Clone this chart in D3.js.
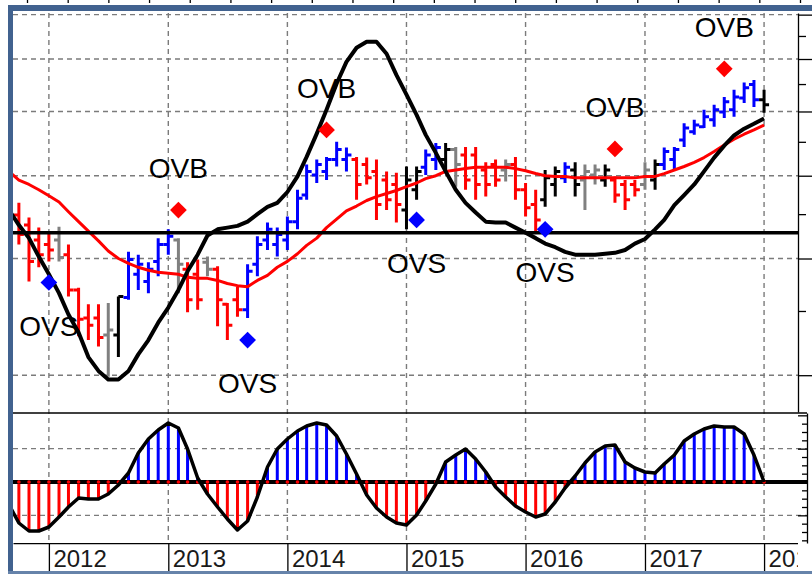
<!DOCTYPE html>
<html>
<head>
<meta charset="utf-8">
<script src="https://cdnjs.cloudflare.com/ajax/libs/d3/7.8.5/d3.min.js"></script>
<style>
    body { margin: 0; background: #ffffff; }
    svg { display: block; font-family: "Liberation Sans", Arial, sans-serif; }
</style>
</head>
<body>
<script>
//monthly periods, Sep 2011 .. Jan 2018 (first month only feeds the lines)
var months = d3.timeMonth.range(new Date(2011, 8, 1), new Date(2018, 1, 1));

//monthly price bars
var barOpen = [null, 34.9, 33.7, 32.0, 31.5, 32.0, 30.4, 26.9, 24.4, 24.4, 23.0, 23.0, 26.2, 28.4, 27.7, 29.7, 31.5,
    32.0, 28.9, 28.4, 29.6, 28.9, 25.6, 26.0, 25.1, 29.4, 32.0, 31.5, 32.0, 34.1, 37.4, 40.1, 40.6, 42.3, 42.3,
    42.3, 41.6, 40.6, 39.4, 38.8, 35.5, 38.1, 41.2, 42.3, 42.3, 43.8, 43.0, 43.0, 40.8, 41.6, 40.8, 41.6, 38.1,
    36.2, 36.8, 38.8, 39.7, 40.8, 39.4, 40.1, 39.4, 39.4, 38.8, 38.8, 38.8, 39.4, 41.6, 42.3, 45.3, 46.6, 47.4,
    48.6, 49.9, 50.3, 52.4, 54.9, 52.1];
var barHigh = [null, 36.4, 34.6, 33.4, 32.9, 33.5, 31.5, 27.1, 25.6, 25.6, 25.7, 26.3, 30.7, 30.4, 29.6, 32.2, 33.2,
    32.2, 29.6, 29.9, 30.2, 29.2, 25.7, 27.2, 29.4, 32.4, 34.0, 33.4, 34.7, 38.1, 41.6, 42.3, 42.7, 45.0, 44.1,
    42.7, 42.6, 42.3, 40.6, 40.4, 41.3, 41.3, 43.8, 44.8, 44.8, 44.2, 44.2, 44.2, 41.9, 42.3, 42.3, 42.7, 39.0,
    38.1, 40.8, 41.3, 41.9, 41.9, 41.6, 41.6, 41.6, 39.9, 39.4, 39.4, 41.9, 42.3, 44.1, 44.2, 48.0, 48.6, 50.3,
    51.2, 52.6, 53.9, 55.3, 55.8, 53.9];
var barLow = [null, 31.5, 27.7, 29.1, 29.7, 29.7, 26.3, 22.9, 22.6, 22.1, 19.9, 21.3, 26.0, 26.9, 26.6, 28.2, 30.4,
    26.6, 24.9, 25.1, 28.2, 23.7, 22.6, 24.5, 24.4, 28.2, 30.9, 30.2, 30.9, 33.2, 36.8, 39.0, 39.4, 41.3, 40.6,
    36.8, 38.8, 34.3, 35.5, 34.0, 33.2, 36.8, 40.1, 40.8, 40.4, 38.5, 38.1, 36.8, 37.2, 38.5, 39.2, 36.8, 34.7,
    32.9, 35.9, 37.2, 39.0, 37.2, 35.5, 38.8, 38.5, 36.4, 35.5, 37.2, 38.1, 38.1, 40.8, 40.8, 44.2, 46.1, 47.2,
    47.4, 48.9, 49.1, 51.5, 50.8, 49.8];
var barClose = [null, 32.6, 29.7, 30.4, 30.9, 30.1, 26.9, 24.3, 23.8, 22.8, 23.4, 26.3, 29.9, 29.4, 28.9, 31.5, 32.4,
    29.4, 26.0, 26.0, 28.9, 26.0, 23.8, 25.1, 28.7, 31.5, 33.2, 32.6, 34.1, 37.0, 40.6, 41.6, 42.3, 43.8, 43.0,
    38.8, 39.7, 36.2, 36.8, 36.2, 39.4, 40.6, 43.0, 44.1, 43.8, 41.6, 39.4, 38.8, 38.8, 39.4, 41.6, 38.1, 35.8,
    34.3, 39.7, 40.6, 41.2, 38.8, 40.6, 40.8, 40.8, 37.4, 36.8, 38.1, 40.8, 41.6, 43.5, 43.8, 47.2, 47.7, 49.1,
    50.3, 51.7, 52.6, 54.3, 52.1, 51.2];
//bar state: dn = falling, up = rising, nt = neutral, tr = turning
var barState = [null, "dn", "dn", "dn", "dn", "nt", "dn", "dn", "dn", "dn", "nt", "tr", "up", "up", "up", "up", "up",
    "nt", "dn", "dn", "nt", "dn", "dn", "dn", "up", "up", "up", "up", "up", "up", "up", "up", "up", "up", "up",
    "dn", "dn", "dn", "dn", "dn", "tr", "tr", "up", "up", "tr", "nt", "dn", "dn", "dn", "dn", "nt", "dn", "dn",
    "dn", "tr", "tr", "up", "tr", "nt", "nt", "tr", "dn", "dn", "dn", "nt", "tr", "up", "up", "up", "up", "up",
    "up", "up", "up", "up", "up", "tr"];

//moving average (red) and smoothed cycle line (black)
var movingAvg = [40.6, 39.4, 38.8, 38.1, 37.3, 36.5, 35.3, 34.1, 33.0, 31.9, 30.8, 30.0, 29.5, 29.1, 28.8, 28.6,
    28.5, 28.4, 28.1, 28.0, 28.0, 27.8, 27.5, 27.3, 27.2, 27.8, 28.3, 29.1, 29.7, 30.5, 31.4, 32.2, 33.4, 34.4,
    35.4, 36.0, 36.7, 37.2, 37.6, 38.0, 38.5, 39.0, 39.6, 40.0, 40.6, 40.8, 41.0, 41.2, 41.2, 41.2, 41.2, 41.0,
    40.7, 40.3, 40.0, 39.9, 39.9, 39.7, 39.7, 39.7, 39.7, 39.7, 39.7, 39.7, 39.9, 39.9, 40.3, 40.8, 41.3, 41.9,
    42.6, 43.5, 44.5, 45.4, 46.2, 46.9, 47.7];
var cycleLine = [35.5, 33.7, 32.2, 30.2, 28.4, 26.6, 24.7, 23.2, 21.3, 20.3, 19.7, 19.7, 20.3, 21.5, 22.6, 24.0,
    25.3, 26.9, 28.7, 30.4, 32.5, 33.2, 33.4, 33.6, 34.1, 35.0, 35.9, 36.4, 37.8, 39.9, 42.7, 46.3, 50.3, 55.1,
    59.4, 62.4, 63.7, 63.7, 61.1, 56.8, 53.0, 49.4, 46.1, 43.3, 40.6, 38.1, 36.4, 35.2, 34.1, 34.0, 34.0, 33.4,
    32.8, 32.2, 31.6, 31.2, 30.7, 30.4, 30.4, 30.4, 30.5, 30.6, 30.9, 31.6, 32.1, 33.2, 34.3, 36.1, 37.4, 38.8,
    40.6, 42.6, 44.4, 46.0, 47.1, 47.9, 48.8];
var refLevel = 32.8;

//oscillator (lower panel)
var oscValue = [-0.69, -1.23, -1.47, -1.47, -1.35, -1.05, -0.75, -0.48, -0.51, -0.51, -0.36, -0.09, 0.27, 0.87,
    1.29, 1.56, 1.77, 1.62, 0.99, 0.12, -0.36, -0.75, -1.11, -1.44, -1.17, -0.45, 0.45, 0.99, 1.29, 1.53, 1.68,
    1.77, 1.71, 1.38, 0.84, 0.24, -0.39, -0.78, -1.05, -1.23, -1.29, -0.99, -0.57, -0.06, 0.60, 0.81, 0.99, 0.69,
    0.30, -0.15, -0.45, -0.72, -0.90, -1.05, -0.96, -0.60, -0.18, 0.18, 0.57, 0.90, 1.08, 1.11, 0.60, 0.42, 0.30,
    0.27, 0.54, 0.81, 1.23, 1.44, 1.59, 1.68, 1.65, 1.65, 1.44, 0.81, 0.00];

//overbought / oversold signals
var signalMonth = ["2012-01", "2013-02", "2013-09", "2014-05", "2015-02", "2016-03", "2016-10", "2017-09"];
var signalPrice = [27.6, 35.5, 22.6, 46.9, 34.3, 33.2, 43.9, 58.0];
var signalType = ["OVS", "OVB", "OVS", "OVB", "OVS", "OVS", "OVB", "OVB"];

//axis ticks
var priceMajor = [20, 30, 40, 50, 60, 70];
var priceMinor = [25, 35, 45, 55, 65];
var oscMajor = [-1, 0, 1, 2];
var oscMinor = [-1.75, -1.5, -1.25, -0.75, -0.5, -0.25, 0.25, 0.5, 0.75, 1.25, 1.5, 1.75];

window.onload = function () {
    var w = 812, h = 574;
    var left = 13, right = 798, oscRight = 807;
    var priceTop = 13, split = 413, oscBottom = 543;
    var frameBlue = "#41628f";

    var svg = d3.select("body")
        .append("svg")
        .attr("width", w)
        .attr("height", h);

    svg.append("rect").attr("width", w).attr("height", h).style("fill", "#ffffff");

    //scales
    var x = d3.scaleTime()
        .domain([new Date(2011, 8, 13), new Date(2018, 3, 15)])
        .range([left, right]);
    var y = d3.scaleLog()
        .domain([17.6, 70.4])
        .range([412, priceTop]);
    var yOsc = d3.scaleLinear()
        .domain([-1.83, 2.07])
        .range([oscBottom, split]);
    var stateColor = d3.scaleOrdinal()
        .domain(["dn", "up", "nt", "tr"])
        .range(["#ff0000", "#0000ff", "#808080", "#000000"]);

    //clip areas
    var defs = svg.append("defs");
    defs.append("clipPath").attr("id", "clipPrice")
        .append("rect").attr("x", left).attr("y", 11).attr("width", right - left).attr("height", split - 11);
    defs.append("clipPath").attr("id", "clipOsc")
        .append("rect").attr("x", left).attr("y", split).attr("width", oscRight - left).attr("height", oscBottom - split);
    defs.append("clipPath").attr("id", "clipYears")
        .append("rect").attr("x", left).attr("y", oscBottom).attr("width", right - left).attr("height", h - oscBottom);

    //strip of ticks left over from the panel above
    var strip = d3.scaleLinear().domain([0, 19]).range([27, 800]);
    svg.append("g")
        .call(d3.axisBottom(strip).ticks(19).tickSize(3).tickFormat(""))
        .call(function (g) { g.select(".domain").remove(); })
        .selectAll("line").style("stroke", "#000");

    //dashed grid
    var grid = svg.append("g").attr("class", "grid")
        .style("stroke", "#7b7b7b")
        .style("stroke-width", 1.4)
        .style("stroke-dasharray", "5,4");
    var years = d3.timeYear.range(new Date(2012, 0, 1), new Date(2019, 0, 1));
    grid.selectAll(".vgrid")
        .data(years)
        .enter()
        .append("line")
        .attr("x1", function (d) { return x(d); })
        .attr("x2", function (d) { return x(d); })
        .attr("y1", priceTop)
        .attr("y2", oscBottom);
    grid.selectAll(".pgrid")
        .data(priceMajor)
        .enter()
        .append("line")
        .attr("x1", left)
        .attr("x2", right)
        .attr("y1", function (d) { return y(d); })
        .attr("y2", function (d) { return y(d); });
    grid.selectAll(".ogrid")
        .data([-1, 1])
        .enter()
        .append("line")
        .attr("x1", left)
        .attr("x2", oscRight)
        .attr("y1", function (d) { return yOsc(d); })
        .attr("y2", function (d) { return yOsc(d); });

    //price bars
    var bars = months.map(function (m, i) {
        return { date: m, o: barOpen[i], hi: barHigh[i], lo: barLow[i], c: barClose[i], s: barState[i] };
    }).filter(function (d) { return d.o !== null; });

    var price = svg.append("g").attr("clip-path", "url(#clipPrice)");

    price.selectAll(".bar")
        .data(bars)
        .enter()
        .append("path")
        .attr("class", "bar")
        .attr("d", function (d) {
            var cx = x(d.date);
            return "M" + cx + "," + y(d.hi) + "V" + y(d.lo) +
                "M" + (cx - 5) + "," + y(d.o) + "H" + cx +
                "M" + cx + "," + y(d.c) + "H" + (cx + 5);
        })
        .style("fill", "none")
        .style("stroke", function (d) { return stateColor(d.s); })
        .style("stroke-width", 3);

    //moving average
    var line = d3.line()
        .x(function (d) { return x(d[0]); })
        .y(function (d) { return y(d[1]); });

    price.append("path")
        .datum(months.map(function (m, i) { return [m, movingAvg[i]]; }))
        .attr("d", line)
        .style("fill", "none")
        .style("stroke", "#ff0000")
        .style("stroke-width", 3)
        .style("stroke-linejoin", "round");

    //reference level
    price.append("line")
        .attr("x1", left)
        .attr("x2", right)
        .attr("y1", y(refLevel))
        .attr("y2", y(refLevel))
        .style("stroke", "#000")
        .style("stroke-width", 3.5);

    //cycle line
    price.append("path")
        .datum(months.map(function (m, i) { return [m, cycleLine[i]]; }))
        .attr("d", line)
        .style("fill", "none")
        .style("stroke", "#000")
        .style("stroke-width", 4)
        .style("stroke-linejoin", "round");

    //signals
    var parseMonth = d3.timeParse("%Y-%m");
    var signals = signalMonth.map(function (m, i) {
        return { date: parseMonth(m), p: signalPrice[i], t: signalType[i] };
    });

    price.selectAll(".signal")
        .data(signals)
        .enter()
        .append("path")
        .attr("class", "signal")
        .attr("d", d3.symbol().type(d3.symbolSquare).size(140))
        .attr("transform", function (d) {
            return "translate(" + x(d.date) + "," + y(d.p) + ") rotate(45)";
        })
        .style("fill", function (d) { return d.t === "OVB" ? "#ff0000" : "#0000ff"; });

    svg.selectAll(".signalLabel")
        .data(signals)
        .enter()
        .append("text")
        .attr("class", "signalLabel")
        .attr("text-anchor", "middle")
        .attr("x", function (d) { return x(d.date); })
        .attr("y", function (d) { return y(d.p) + (d.t === "OVB" ? -32 : 53); })
        .style("font-size", "28px")
        .style("fill", "#000")
        .text(function (d) { return d.t; });

    //oscillator panel
    var osc = svg.append("g").attr("clip-path", "url(#clipOsc)");
    var oscData = months.map(function (m, i) { return { date: m, v: oscValue[i] }; });

    osc.selectAll(".stem")
        .data(oscData)
        .enter()
        .append("line")
        .attr("class", "stem")
        .attr("x1", function (d) { return x(d.date); })
        .attr("x2", function (d) { return x(d.date); })
        .attr("y1", yOsc(0))
        .attr("y2", function (d) { return yOsc(d.v); })
        .style("stroke", function (d) { return d.v >= 0 ? "#0000ff" : "#ff0000"; })
        .style("stroke-width", 3);

    //zero line
    osc.append("line")
        .attr("x1", left)
        .attr("x2", oscRight)
        .attr("y1", yOsc(0))
        .attr("y2", yOsc(0))
        .style("stroke", "#000")
        .style("stroke-width", 4);

    osc.selectAll(".dot")
        .data(oscData)
        .enter()
        .append("circle")
        .attr("class", "dot")
        .attr("cx", function (d) { return x(d.date); })
        .attr("cy", yOsc(0))
        .attr("r", 1.8)
        .style("fill", "#ff0000");

    osc.append("path")
        .datum(oscData)
        .attr("d", d3.line()
            .x(function (d) { return x(d.date); })
            .y(function (d) { return yOsc(d.v); }))
        .style("fill", "none")
        .style("stroke", "#000")
        .style("stroke-width", 3.5)
        .style("stroke-linejoin", "round");

    //panel separator
    svg.append("line")
        .attr("x1", left).attr("x2", oscRight)
        .attr("y1", split).attr("y2", split)
        .style("stroke", "#000")
        .style("stroke-width", 1.5);

    //right axis of the price panel (ticks only)
    svg.append("g")
        .attr("transform", "translate(" + right + ",0)")
        .call(d3.axisRight(y).tickValues(priceMajor).tickSize(14).tickSizeOuter(0).tickFormat(""));
    svg.append("g")
        .attr("transform", "translate(" + right + ",0)")
        .call(d3.axisRight(y).tickValues(priceMinor).tickSize(8).tickFormat(""))
        .call(function (g) { g.select(".domain").remove(); });

    //right axis of the oscillator panel
    svg.append("g")
        .attr("transform", "translate(" + oscRight + ",0)")
        .call(d3.axisLeft(yOsc).tickValues(oscMajor).tickSize(9).tickSizeOuter(0).tickFormat(""));
    svg.append("g")
        .attr("transform", "translate(" + oscRight + ",0)")
        .call(d3.axisLeft(yOsc).tickValues(oscMinor).tickSize(5).tickFormat(""))
        .call(function (g) { g.select(".domain").remove(); });

    svg.selectAll(".tick line, .domain").style("stroke", "#000").style("stroke-width", 1.3);

    //year axis
    var xAxis = svg.append("g")
        .attr("clip-path", "url(#clipYears)")
        .append("g")
        .attr("transform", "translate(0," + oscBottom + ")")
        .call(d3.axisBottom(x)
            .tickValues(years)
            .tickSize(29)
            .tickSizeOuter(0)
            .tickFormat(d3.timeFormat("%Y")));
    xAxis.selectAll("line, .domain").style("stroke", "#000").style("stroke-width", 1.3);
    xAxis.selectAll("text")
        .attr("x", 4)
        .attr("y", 24)
        .attr("dy", null)
        .style("text-anchor", "start")
        .style("font-family", "'Liberation Sans', Arial, sans-serif")
        .style("font-size", "24px")
        .style("fill", "#1a1a1a");

    //blue frame
    svg.append("rect").attr("x", 8).attr("y", 5).attr("width", w - 8).attr("height", 6).style("fill", frameBlue);
    svg.append("rect").attr("x", 8).attr("y", 5).attr("width", 5).attr("height", h - 5).style("fill", frameBlue);
    svg.append("rect").attr("x", 8).attr("y", 571).attr("width", w - 8).attr("height", 3).style("fill", "#6683aa");
};
</script>
</body>
</html>
